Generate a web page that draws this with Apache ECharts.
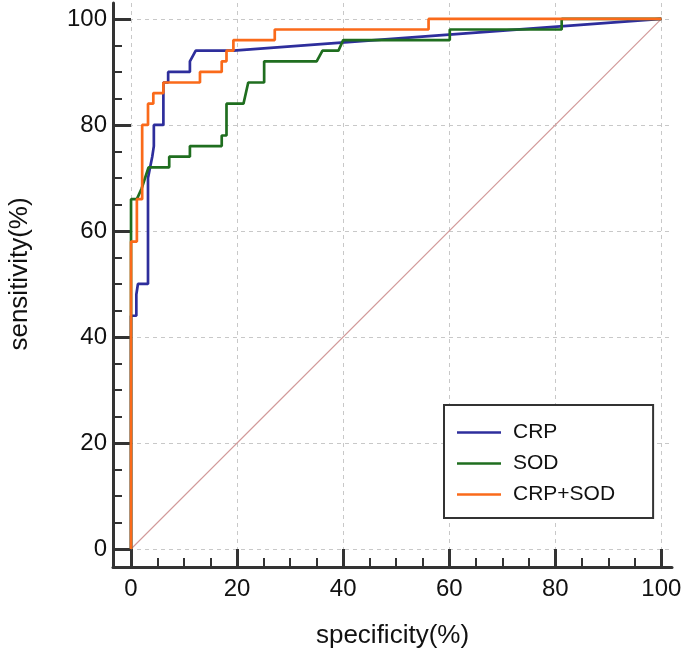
<!DOCTYPE html>
<html>
<head>
<meta charset="utf-8">
<script src="https://cdn.jsdelivr.net/npm/echarts@6/dist/echarts.min.js"></script>
<style>html,body{margin:0;padding:0;background:#fff}#c{width:685px;height:655px}</style>
</head>
<body>
<div id="c"></div>
<script>
// ROC data: [1-specificity (%), sensitivity (%)]
var crpPoints = [[0,0],[0,44],[1,44],[1,48],[1.3,50],[3.2,50],[3.2,70],[3.6,72],[4,74],[4.3,76],[4.3,80],[6.1,80],[6.1,88],[7,88],[7,90],[11.1,90],[11.1,92],[12.2,94],[19.3,94],[100,100]];
var sodPoints = [[0,0],[0,66],[1.1,66],[2,68],[3.3,72],[7.2,72],[7.2,74],[11.1,74],[11.1,76],[17.1,76],[17.1,78],[18,78],[18,84],[21.2,84],[22.1,88],[25.1,88],[25.1,92],[35,92],[36.1,94],[39.1,94],[40,96],[60.1,96],[60.1,98],[81.2,98],[81.2,100],[100,100]];
var comboPoints = [[0,0],[0,58],[1.1,58],[1.1,66],[2.1,66],[2.1,80],[3.2,80],[3.2,84],[4.2,84],[4.2,86],[6.1,86],[6.1,88],[13,88],[13,90],[17.1,90],[17.1,92],[18,92],[18,94],[19.3,94],[19.3,96],[27.1,96],[27.1,98],[56.1,98],[56.1,100],[100,100]];
var refPoints = [[0,0],[100,100]];
var seriesNames = ['CRP','SOD','CRP+SOD'];
var majorTicks = [0,20,40,60,80,100];
var minorTicks = [5,10,15,25,30,35,45,50,55,65,70,75,85,90,95];

var font = "'Liberation Sans', Arial, sans-serif";
var axisColor = '#333';
var chart = echarts.init(document.getElementById('c'));

function mainAxis(isX){
  return {
    type:'value', min:-3.4, max: isX ? 102 : 103,
    position: isX ? 'bottom' : 'left',
    name: isX ? 'specificity(%)' : 'sensitivity(%)',
    nameLocation:'middle',
    nameGap: isX ? 56 : 80,
    nameTextStyle:{fontFamily:font,fontSize:26,color:'#111',padding: isX ? 0 : [0,0,0,22]},
    axisLine:{show:true,onZero:false,lineStyle:{color:axisColor,width:3}},
    axisTick:{show:true,inside:true,length:18,customValues:majorTicks,lineStyle:{color:axisColor,width:3}},
    axisLabel:{show:true,customValues:majorTicks,fontFamily:font,fontSize:24,color:'#111',margin:isX?10:6},
    splitLine:{show:true,lineStyle:{color:'#c8c8c8',width:1,type:[4,4]}}
  };
}
function minorAxis(isX){
  return {
    type:'value', min:-3.4, max: isX ? 102 : 103,
    position: isX ? 'bottom' : 'left',
    axisLine:{show:false,onZero:false},
    axisTick:{show:true,inside:true,length:9,customValues:minorTicks,lineStyle:{color:axisColor,width:2}},
    axisLabel:{show:false},
    splitLine:{show:false}
  };
}

var lineSeries = function(name, data, color){
  return {name:name,type:'line',data:data,symbol:'none',showSymbol:false,
    xAxisIndex:0,yAxisIndex:0,
    lineStyle:{color:color,width:2.7},itemStyle:{color:color},animation:false};
};

chart.setOption({
  animation:false,
  grid:{left:113,top:3,right:13,bottom:88,containLabel:false,outerBoundsMode:'none'},
  xAxis:[mainAxis(true),minorAxis(true)],
  yAxis:[mainAxis(false),minorAxis(false)],
  legend:{
    data:seriesNames,
    icon:'rect',
    orient:'vertical',left:444,top:405,
    itemWidth:44,itemHeight:2.5,itemGap:10,
    padding:[17,38,13,13],
    borderColor:'#333',borderWidth:2,backgroundColor:'#fff',
    textStyle:{fontFamily:font,fontSize:21,color:'#111',padding:[0,0,0,7]}
  },
  series:[
    {name:'ref',type:'line',data:refPoints,symbol:'none',lineStyle:{color:'#d29a9a',width:1.2},silent:true},
    lineSeries(seriesNames[0],crpPoints,'#2e2e9c'),
    lineSeries(seriesNames[1],sodPoints,'#1f6e1f'),
    lineSeries(seriesNames[2],comboPoints,'#fa6a1a')
  ]
});
</script>
</body>
</html>
